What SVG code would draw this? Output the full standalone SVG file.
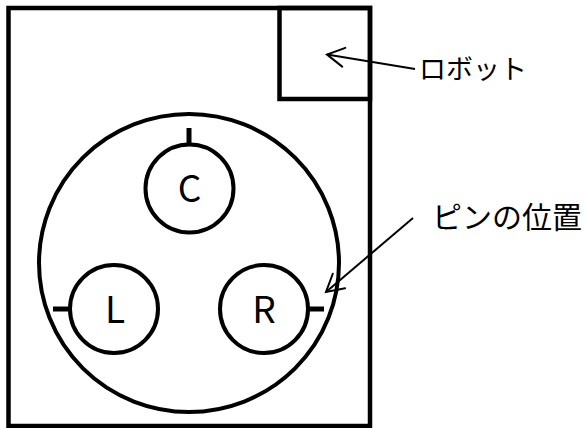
<svg xmlns="http://www.w3.org/2000/svg" width="584" height="428" viewBox="0 0 584 428">
  <style>
    .frame { fill: none; stroke: #000; stroke-width: 4.5; }
    .ring { fill: none; stroke: #000; stroke-width: 4; }
    .tick { stroke: #000; stroke-width: 5; }
    .pin { font-family: "Noto Sans CJK JP", "Noto Sans", sans-serif; font-size: 37px; text-anchor: middle; fill: #000; }
    .label { font-family: "Noto Sans CJK JP", sans-serif; font-size: 28px; fill: #000; }
    .conn { fill: none; stroke: #000; stroke-width: 2; }
  </style>
  <defs>
    <marker id="open" markerUnits="userSpaceOnUse" markerWidth="24" markerHeight="24" viewBox="-20 -12 24 24" refX="0" refY="0" orient="auto">
      <path d="M-17,-9.5 L0,0 L-17,9.5" fill="none" stroke="#000" stroke-width="2" stroke-linecap="round"/>
    </marker>
  </defs>
  <rect width="584" height="428" fill="#fff"/>
  <g id="field">
    <rect class="frame" x="8.5" y="8" width="361.5" height="418"/>
  </g>
  <g id="robot">
    <rect class="frame" x="279.5" y="8" width="90.5" height="91"/>
  </g>
  <g id="board">
    <ellipse class="ring" cx="189" cy="263" rx="150" ry="149"/>
  </g>
  <g id="pin-c">
    <circle class="ring" cx="189.5" cy="188.5" r="44"/>
    <line class="tick" x1="189" y1="128" x2="189" y2="145"/>
    <text class="pin" x="189.5" y="202">C</text>
  </g>
  <g id="pin-l">
    <circle class="ring" cx="114" cy="309" r="44"/>
    <line class="tick" x1="53" y1="309" x2="70" y2="309"/>
    <text class="pin" x="115" y="323">L</text>
  </g>
  <g id="pin-r">
    <circle class="ring" cx="264" cy="309" r="44"/>
    <line class="tick" x1="308" y1="309" x2="324" y2="309"/>
    <text class="pin" x="264" y="323">R</text>
  </g>
  <g id="label-robot">
    <text class="label" x="419" y="79" style="font-size:27px">ロボット</text>
  </g>
  <g id="label-pin">
    <text class="label" x="432" y="228" style="font-size:30px">ピンの位置</text>
  </g>
  <g id="connectors">
    <line class="conn" x1="415" y1="69" x2="327" y2="54.5" marker-end="url(#open)"/>
    <line class="conn" x1="413" y1="218" x2="326" y2="292" marker-end="url(#open)"/>
  </g>
</svg>
